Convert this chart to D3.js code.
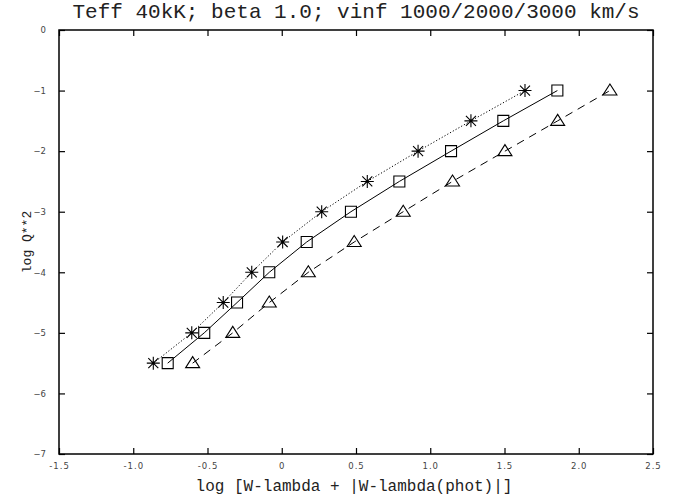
<!DOCTYPE html>
<html>
<head>
<meta charset="utf-8">
<script src="https://cdn.jsdelivr.net/npm/d3@7"></script>
<style>
  body { margin: 0; background: #fff; }
  svg text { font-family: "Liberation Mono", "DejaVu Sans Mono", monospace; }
</style>
</head>
<body>
<div id="chart"></div>
<script>
// log Q**2 levels, shared by all three series
var logQ2 = [-5.5, -5.0, -4.5, -4.0, -3.5, -3.0, -2.5, -2.0, -1.5, -1.0];
// log [W-lambda + |W-lambda(phot)|] for each vinf
var wStar = [-0.865, -0.606, -0.394, -0.202, 0.006, 0.269, 0.576, 0.918, 1.274, 1.638];
var wSquare = [-0.768, -0.522, -0.301, -0.084, 0.168, 0.466, 0.792, 1.140, 1.492, 1.856];
var wTri = [-0.600, -0.330, -0.084, 0.179, 0.488, 0.818, 1.150, 1.503, 1.858, 2.210];

var xTicks = [-1.5, -1.0, -0.5, 0, 0.5, 1.0, 1.5, 2.0, 2.5];
var xTickLabels = ["-1.5", "-1.0", "-0.5", "0", "0.5", "1.0", "1.5", "2.0", "2.5"];
var yTicks = [0, -1, -2, -3, -4, -5, -6, -7];

var W = 691, H = 502;
var margin = {top: 30, right: 38, bottom: 48, left: 59},
w = W - margin.left - margin.right,
h = H - margin.top - margin.bottom;

var svg = d3.select("#chart").append("svg")
  .attr("width", W).attr("height", H);

var g = svg.append("g")
  .attr("transform", `translate(${margin.left},${margin.top})`);

var x = d3.scaleLinear().domain([-1.5, 2.5]).range([0, w]);
var y = d3.scaleLinear().domain([-7, 0]).range([h, 0]);

// frame
g.append("rect").attr("width", w).attr("height", h)
  .attr("fill", "none").attr("stroke", "#000").attr("stroke-width", 1.5);

var tl = 6;
// inward ticks on all four sides
var xAx = g.append("g").attr("transform", "translate(0," + h + ")")
  .call(d3.axisBottom(x).tickValues(xTicks).tickSizeInner(-tl).tickSizeOuter(0).tickPadding(9)
    .tickFormat(function(d, i){ return xTickLabels[i]; }))
  .call(function(a){ a.select(".domain").remove(); });
g.append("g")
  .call(d3.axisTop(x).tickValues(xTicks).tickSizeInner(-tl).tickSizeOuter(0).tickFormat(""))
  .call(function(a){ a.select(".domain").remove(); });
g.append("g")
  .call(d3.axisLeft(y).tickValues(yTicks).tickSizeInner(-tl).tickSizeOuter(0).tickPadding(13)
    .tickFormat(function(d){ return d3.format("d")(d); }))
  .call(function(a){ a.select(".domain").remove(); });
g.append("g").attr("transform", "translate(" + w + ",0)")
  .call(d3.axisRight(y).tickValues(yTicks).tickSizeInner(-tl).tickSizeOuter(0).tickFormat(""))
  .call(function(a){ a.select(".domain").remove(); });

g.selectAll(".tick line").attr("stroke", "#000").attr("stroke-width", 1.2);
g.selectAll(".tick text").attr("fill", "#444").style("font-size", "8.5px")
  .style("font-family", "'DejaVu Sans', sans-serif");
xAx.selectAll(".tick text").style("letter-spacing", "1px");

function pts(xs){ return xs.map(function(v, i){ return [x(v), y(logQ2[i])]; }); }
var line = d3.line();

var series = [
  {data: pts(wStar), dash: "1.2,2", mark: "star"},
  {data: pts(wSquare), dash: null, mark: "square"},
  {data: pts(wTri), dash: "8,6", mark: "tri"}
];

series.forEach(function(s){
  g.append("path").attr("d", line(s.data))
    .attr("fill", "none").attr("stroke", "#000").attr("stroke-width", 1)
    .attr("stroke-dasharray", s.dash);
  var m = g.selectAll(null).data(s.data).enter().append("path")
    .attr("transform", function(d){ return "translate(" + d[0] + "," + d[1] + ")"; })
    .attr("fill", "none").attr("stroke", "#000").attr("stroke-width", 1.1);
  if (s.mark == "square") m.attr("d", "M-5.5,-5.5H5.5V5.5H-5.5Z");
  else if (s.mark == "tri") m.attr("d", "M0,-6.5L7,4.5H-7Z");
  else m.attr("d", "M-6.5,0H6.5M0,-6.5V6.5M-5,-5L5,5M-5,5L5,-5");
});

// title and axis labels
svg.append("text").attr("x", 356).attr("y", 18).attr("text-anchor", "middle")
  .attr("fill", "#222").style("font-size", "21px")
  .text("Teff 40kK; beta 1.0; vinf 1000/2000/3000 km/s");
svg.append("text").attr("x", 354).attr("y", 491).attr("text-anchor", "middle")
  .attr("fill", "#222").style("font-size", "16px").text("log [W-lambda + |W-lambda(phot)|]");
svg.append("text").attr("transform", "translate(31," + (margin.top + h / 2) + ")rotate(-90)")
  .attr("text-anchor", "middle").attr("fill", "#222").style("font-size", "13px").text("log Q**2");
</script>
</body>
</html>
